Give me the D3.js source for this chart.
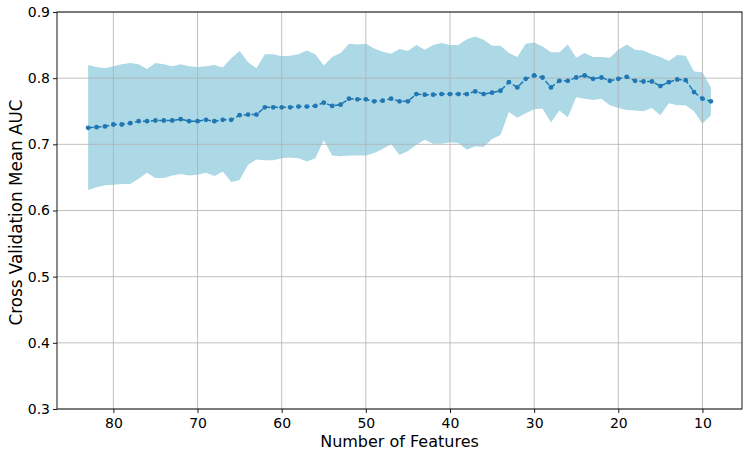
<!DOCTYPE html>
<html>
<head>
<meta charset="utf-8">
<script src="https://cdn.jsdelivr.net/npm/d3@7"></script>
<style>
  html, body { margin: 0; padding: 0; background: #fff; }
  svg { display: block; font-family: "DejaVu Sans", sans-serif; }
</style>
</head>
<body>
<svg id="chart" width="749" height="458"></svg>
<script>
const features = [83,82,81,80,79,78,77,76,75,74,73,72,71,70,69,68,67,66,65,64,63,62,61,60,59,58,57,56,55,54,53,52,51,50,49,48,47,46,45,44,43,42,41,40,39,38,37,36,35,34,33,32,31,30,29,28,27,26,25,24,23,22,21,20,19,18,17,16,15,14,13,12,11,10,9];
const meanAUC = [0.725,0.726,0.727,0.730,0.730,0.732,0.735,0.735,0.736,0.736,0.736,0.738,0.735,0.735,0.737,0.735,0.737,0.737,0.744,0.745,0.745,0.756,0.756,0.756,0.756,0.757,0.757,0.758,0.763,0.758,0.760,0.769,0.768,0.768,0.765,0.766,0.769,0.765,0.765,0.776,0.775,0.775,0.776,0.776,0.776,0.776,0.780,0.776,0.778,0.781,0.794,0.786,0.799,0.804,0.801,0.786,0.796,0.796,0.801,0.804,0.799,0.801,0.796,0.799,0.802,0.796,0.795,0.795,0.788,0.794,0.798,0.797,0.779,0.769,0.765];
const upperAUC = [0.820,0.817,0.815,0.818,0.821,0.823,0.821,0.814,0.823,0.821,0.818,0.821,0.818,0.817,0.818,0.820,0.816,0.830,0.841,0.824,0.815,0.836,0.836,0.833,0.834,0.836,0.842,0.836,0.819,0.832,0.838,0.852,0.851,0.852,0.845,0.840,0.837,0.844,0.841,0.850,0.843,0.850,0.853,0.850,0.850,0.859,0.863,0.858,0.849,0.849,0.838,0.832,0.852,0.854,0.848,0.839,0.839,0.851,0.831,0.838,0.832,0.832,0.831,0.843,0.851,0.843,0.842,0.836,0.832,0.826,0.835,0.834,0.810,0.809,0.786];
const lowerAUC = [0.631,0.635,0.638,0.639,0.640,0.640,0.648,0.657,0.649,0.649,0.653,0.655,0.653,0.654,0.657,0.652,0.659,0.643,0.646,0.669,0.677,0.676,0.676,0.679,0.680,0.679,0.674,0.679,0.706,0.683,0.682,0.683,0.683,0.683,0.687,0.693,0.700,0.684,0.690,0.699,0.707,0.701,0.701,0.703,0.702,0.692,0.697,0.696,0.708,0.714,0.749,0.740,0.747,0.753,0.754,0.733,0.751,0.741,0.771,0.769,0.767,0.769,0.759,0.755,0.752,0.751,0.750,0.755,0.744,0.762,0.759,0.759,0.750,0.731,0.744];
const xTicks = [80,70,60,50,40,30,20,10];
const yTicks = [0.3,0.4,0.5,0.6,0.7,0.8,0.9];

const data = features.map((f, i) => ({f, m: meanAUC[i], hi: upperAUC[i], lo: lowerAUC[i]}));

const W = 749, H = 458;
const margin = {left: 57, top: 12, right: 7, bottom: 49};
const iw = W - margin.left - margin.right;
const ih = H - margin.top - margin.bottom;

const svg = d3.select("#chart");
const g = svg.append("g").attr("transform", `translate(${margin.left},${margin.top})`);

const fMin = d3.min(features), fMax = d3.max(features);
const pad = (fMax - fMin) * 0.05;
const x = d3.scaleLinear().domain([fMax + pad, fMin - pad]).range([0, iw]);
const y = d3.scaleLinear().domain([0.3, 0.9]).range([ih, 0]);

// band
g.append("path")
  .datum(data)
  .attr("fill", "#add8e6")
  .attr("d", d3.area().x(d => x(d.f)).y0(d => y(d.lo)).y1(d => y(d.hi)));

// grid
g.append("g").selectAll("line").data(xTicks).join("line")
  .attr("x1", d => x(d)).attr("x2", d => x(d)).attr("y1", 0).attr("y2", ih)
  .attr("stroke", "#b0b0b0").attr("stroke-width", 0.8);
g.append("g").selectAll("line").data(yTicks).join("line")
  .attr("x1", 0).attr("x2", iw).attr("y1", d => y(d)).attr("y2", d => y(d))
  .attr("stroke", "#b0b0b0").attr("stroke-width", 0.8);

// mean line
g.append("path")
  .datum(data)
  .attr("fill", "none")
  .attr("stroke", "#1f77b4")
  .attr("stroke-width", 1.5)
  .attr("stroke-dasharray", "5.5,2.4")
  .attr("d", d3.line().x(d => x(d.f)).y(d => y(d.m)));
g.append("g").selectAll("circle").data(data).join("circle")
  .attr("cx", d => x(d.f)).attr("cy", d => y(d.m)).attr("r", 2.4)
  .attr("fill", "#1f77b4");

// axes
const xAxis = g.append("g").attr("transform", `translate(0,${ih})`)
  .call(d3.axisBottom(x).tickValues(xTicks).tickFormat(d3.format("d")).tickSize(4).tickPadding(5));
const yAxis = g.append("g")
  .call(d3.axisLeft(y).tickValues(yTicks).tickFormat(d3.format(".1f")).tickSize(4).tickPadding(3));
[xAxis, yAxis].forEach(a => {
  a.select(".domain").remove();
  a.selectAll("text").attr("font-size", 14).attr("fill", "#000").attr("font-family", "DejaVu Sans, sans-serif");
  a.selectAll("line").attr("stroke", "#000").attr("stroke-width", 0.9);
});

// frame
g.append("rect").attr("x", 0).attr("y", 0).attr("width", iw).attr("height", ih)
  .attr("fill", "none").attr("stroke", "#000").attr("stroke-width", 0.9);

// labels
svg.append("text")
  .attr("x", margin.left + iw / 2).attr("y", 447)
  .attr("text-anchor", "middle").attr("font-size", 16).attr("fill", "#000")
  .text("Number of Features");
svg.append("text")
  .attr("transform", `translate(21.5,${margin.top + ih / 2 + 2}) rotate(-90)`)
  .attr("text-anchor", "middle").attr("font-size", 16.8).attr("fill", "#000")
  .text("Cross Validation Mean AUC");
</script>
</body>
</html>
